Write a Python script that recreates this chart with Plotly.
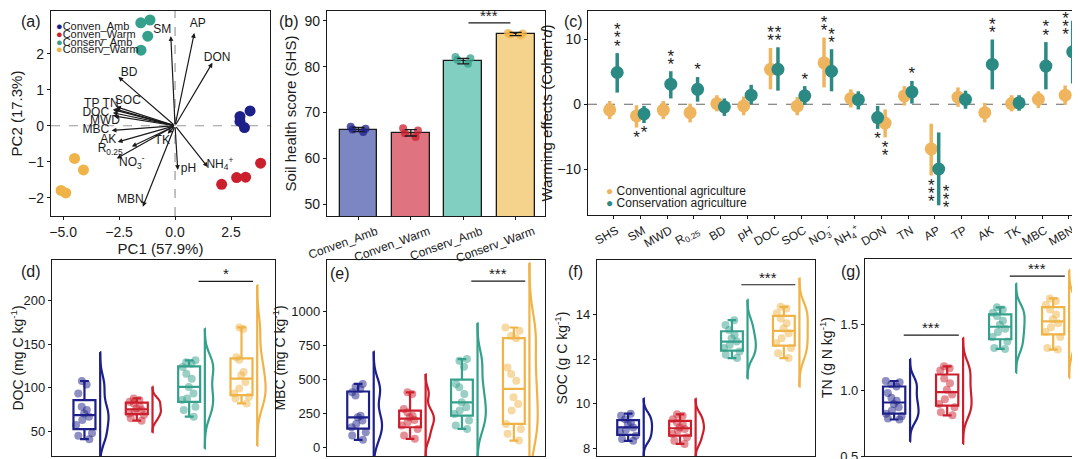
import numpy as np
import plotly.graph_objects as go

W, H = 1080, 459
FONT = "Liberation Sans, Arial, sans-serif"
INK = "#1a1a1a"

groups = ["Conven_Amb", "Conven_Warm", "Conserv_Amb", "Conserv_Warm"]
group_dark = ["#1d2088", "#cc1f2d", "#35a08c", "#f0b347"]
group_light = ["#7c86c2", "#df737f", "#80cfc1", "#f5d38c"]

# (a) PCA scores, one list per group
pc1_scores = [[3.35, 2.9, 2.9, 3.1],
              [3.82, 3.15, 2.75, 2.08],
              [-1.53, -1.12, -1.22, -1.52],
              [-4.49, -4.09, -5.09, -4.88]]
pc2_scores = [[0.41, 0.26, 0.12, -0.05],
              [-1.04, -1.43, -1.44, -1.63],
              [2.86, 2.94, 2.49, 2.10],
              [-0.91, -1.23, -1.80, -1.87]]

load_vars = ["SM", "AP", "DON", "BD", "SOC", "TN", "TP", "DOC", "MWD", "MBC", "AK",
             "R<sub>0.25</sub>", "NO<sub>3</sub><sup>-</sup>", "TK", "pH",
             "NH<sub>4</sub><sup>+</sup>", "MBN"]
load_pc1 = [-0.19, 0.86, 1.67, -2.53, -2.63, -2.71, -2.78, -2.78, -2.74, -2.83, -2.56,
            -1.93, -2.6, -0.33, 0.12, 1.46, -1.44]
load_pc2 = [2.49, 2.58, 1.75, 1.36, 0.53, 0.47, 0.45, 0.36, 0.27, -0.13, -0.45,
            -0.58, -0.91, -0.22, -1.23, -1.15, -2.25]
label_pc1 = [-0.57, 1.01, 1.88, -2.05, -2.11, -2.88, -3.72, -3.54, -3.13, -3.54, -2.98,
             -2.9, -1.93, -0.57, 0.6, 2.0, -2.0]
label_pc2 = [2.65, 2.83, 1.89, 1.47, 0.68, 0.61, 0.61, 0.35, 0.13, -0.11, -0.40,
             -0.66, -1.05, -0.43, -1.19, -1.08, -2.06]

# (b) soil health score
shs_mean = [66.3, 65.6, 81.2, 87.1]
shs_se = [0.45, 0.7, 0.6, 0.35]
shs_points = [[66.9, 66.3, 65.8, 66.5],
              [66.6, 64.7, 65.5, 66.1],
              [82.1, 81.5, 80.6, 81.8],
              [87.3, 86.8, 87.0, 87.2]]

# (c) warming effects (Cohen's d) with 95% CI
eff_vars = ["SHS", "SM", "MWD", "R<sub>0.25</sub>", "BD", "pH", "DOC", "SOC",
            "NO<sub>3</sub><sup>-</sup>", "NH<sub>4</sub><sup>+</sup>", "DON", "TN", "AP",
            "TP", "AK", "TK", "MBC", "MBN"]
conv_d = [-0.87, -1.8, -0.9, -1.3, 0.1, -0.25, 5.4, -0.3, 6.4, 0.9, -2.9, 1.3, -6.9,
          1.1, -1.3, 0.1, 0.77, 1.4]
conv_lo = [-2.3, -3.6, -2.3, -2.8, -1.1, -1.7, 2.3, -1.7, 2.6, -0.5, -5.1, -0.2, -11.0,
           -0.4, -2.8, -1.1, -0.6, -0.1]
conv_hi = [0.5, -0.15, 0.5, 0.1, 1.4, 1.2, 8.7, 1.1, 10.3, 2.3, -0.8, 2.8, -3.0,
           2.6, 0.2, 1.4, 2.0, 2.9]
cons_d = [4.9, -1.5, 3.1, 2.3, -0.4, 1.4, 5.4, 1.3, 5.1, 0.7, -2.05, 1.9, -10.0,
          0.75, 6.15, 0.2, 5.9, 8.1]
cons_lo = [1.8, -2.9, 0.9, 0.4, -1.8, 0.0, 2.1, -0.1, 2.0, -0.8, -3.8, 0.1, -15.6,
           -0.7, 2.3, -1.0, 2.3, 3.2]
cons_hi = [7.9, -0.25, 5.1, 4.2, 0.9, 3.0, 8.8, 2.8, 8.5, 2.0, -0.25, 3.6, -4.35,
           2.1, 10.0, 1.4, 9.6, 12.9]
conv_sig = ["", "*", "", "", "", "", "**", "", "**", "", "**", "", "***",
            "", "", "", "", ""]
cons_sig = ["***", "*", "**", "*", "", "", "**", "*", "**", "", "*", "*", "***",
            "", "**", "", "**", "***"]
# dodge side of the conventional series per variable (DON is drawn the other way round)
conv_side = [-1] * 10 + [1] + [-1] * 7

# (d)-(g) replicate values per group
doc_vals = [[107.9, 103.8, 93.5, 78.4, 74.6, 70.8, 67.0, 63.3, 57.6, 48.1, 45.1, 41.3],
            [87.9, 86.0, 84.1, 82.2, 79.2, 76.5, 74.6, 72.7, 70.8, 68.9, 65.1, 62.5],
            [131.6, 129.5, 127.6, 123.8, 116.2, 110.6, 101.1, 93.5, 87.9, 86.0, 78.4, 74.6, 67.0],
            [169.3, 167.4, 135.2, 132.3, 118.2, 114.4, 106.8, 99.3, 93.5, 89.8, 87.9, 82.2]]
mbc_vals = [[467, 447, 430, 406, 382, 235, 223, 199, 175, 150, 114, 90, 58],
            [406, 394, 284, 260, 235, 223, 204, 187, 163, 138, 90, 66],
            [649, 637, 593, 467, 443, 394, 333, 297, 272, 248, 199, 163, 138],
            [880, 856, 819, 802, 588, 540, 491, 370, 321, 272, 175, 138, 102, 53]]
soc_vals = [[9.55, 9.45, 9.30, 9.15, 9.08, 8.93, 8.82, 8.71, 8.56, 8.41, 8.33],
            [9.52, 9.45, 9.30, 9.15, 9.08, 8.93, 8.86, 8.79, 8.64, 8.49, 8.33, 8.19],
            [13.74, 13.52, 13.30, 13.08, 12.93, 12.78, 12.63, 12.49, 12.34, 12.19, 12.04],
            [14.34, 14.27, 14.05, 13.82, 13.60, 13.37, 13.15, 12.93, 12.71, 12.49, 12.26, 12.04]]
tn_vals = [[1.071, 1.061, 1.046, 1.029, 0.98, 0.944, 0.92, 0.895, 0.871, 0.846, 0.822, 0.802, 0.785, 0.778],
           [1.183, 1.168, 1.151, 1.09, 1.054, 1.005, 0.968, 0.932, 0.895, 0.871, 0.834, 0.81],
           [1.632, 1.615, 1.59, 1.566, 1.529, 1.5, 1.468, 1.444, 1.407, 1.371, 1.322, 1.315],
           [1.7, 1.68, 1.651, 1.615, 1.578, 1.541, 1.51, 1.48, 1.444, 1.407, 1.322, 1.31]]

# significance brackets: (from group, to group, height, label)
doc_sig = [(2, 3, 222, "*")]
mbc_sig = [(2, 3, 1220, "***")]
soc_sig = [(2, 3, 15.33, "***")]
tn_sig = [(0, 1, 1.42, "***"), (2, 3, 1.87, "***")]
shs_sig = [(2, 3, 89.5, "***")]

C_CONV = "#efb55e"
C_CONS = "#2c8a84"
C_RANGE = [-17.1, 14.4]


def dx(l, r):
    return [l / W, r / W]


def dy(t, b):
    return [1 - b / H, 1 - t / H]


def axis(domain, anchor, title=None, tsize=14, standoff=3, **kw):
    d = dict(domain=domain, anchor=anchor, showline=True, linewidth=1.3, linecolor=INK,
             mirror=True, ticks="outside", ticklen=3, tickwidth=1, tickcolor=INK,
             showgrid=False, zeroline=False, automargin=False,
             tickfont=dict(size=13, color=INK, family=FONT))
    if title:
        d["title"] = dict(text=title, font=dict(size=tsize, color=INK, family=FONT),
                          standoff=standoff)
    d.update(kw)
    return d


def nrd0(v):
    # Silverman's rule, as used by ggplot's violin
    v = np.asarray(v, dtype=float)
    q75, q25 = np.percentile(v, [75, 25])
    s = min(v.std(ddof=1), (q75 - q25) / 1.34)
    return 0.9 * s * len(v) ** -0.2


fig = go.Figure()
annotations = []
shapes = []

# ---------- (a) PCA biplot ----------
for i, g in enumerate(groups):
    fig.add_trace(go.Scatter(x=pc1_scores[i], y=pc2_scores[i], mode="markers",
                             marker=dict(size=11, color=group_dark[i]),
                             xaxis="x", yaxis="y", showlegend=False))
for vx, vy in zip(load_pc1, load_pc2):
    annotations.append(dict(x=vx, y=vy, ax=0, ay=0, xref="x", yref="y", axref="x", ayref="y",
                            text="", showarrow=True, arrowhead=2, arrowsize=0.8,
                            arrowwidth=1.2, arrowcolor=INK, standoff=0))
fig.add_trace(go.Scatter(x=label_pc1, y=label_pc2, text=load_vars, mode="text",
                         textfont=dict(size=12, color=INK, family=FONT),
                         xaxis="x", yaxis="y", showlegend=False))
shapes.append(dict(type="line", xref="x", yref="y domain", x0=0, x1=0, y0=0, y1=1,
                   line=dict(color="#999", width=1.2, dash="dash"), layer="below"))
shapes.append(dict(type="line", xref="x domain", yref="y", x0=0, x1=1, y0=0, y1=0,
                   line=dict(color="#999", width=1.2, dash="dash"), layer="below"))
for i, g in enumerate(groups):
    annotations.append(dict(xref="paper", yref="paper", x=46 / W, y=1 - (18 + 7.8 * i) / H,
                            xanchor="left", yanchor="middle", showarrow=False,
                            text=f'<span style="color:{group_dark[i]}">●</span>{g}',
                            font=dict(size=11, color=INK, family=FONT)))

# ---------- (b) SHS bars ----------
xb = list(range(len(groups)))
fig.add_trace(go.Bar(x=xb, y=shs_mean, width=0.72, marker=dict(color=group_light,
                     line=dict(color=INK, width=1.3)), xaxis="x2", yaxis="y2", showlegend=False))
for i in xb:
    fig.add_trace(go.Box(y=shs_points[i], x0=i, width=0.35, boxpoints="all", jitter=1,
                         pointpos=0, fillcolor="rgba(0,0,0,0)", line=dict(width=0),
                         marker=dict(size=8, color=group_dark[i], opacity=0.75),
                         xaxis="x2", yaxis="y2", showlegend=False, hoverinfo="skip"))
fig.add_trace(go.Scatter(x=xb, y=shs_mean, mode="markers", marker=dict(size=1, opacity=0),
                         error_y=dict(type="data", array=shs_se, color=INK, thickness=1.3, width=6),
                         xaxis="x2", yaxis="y2", showlegend=False))

# ---------- (c) Cohen's d ----------
xc = list(range(len(eff_vars)))
DODGE = 0.14
series_c = [(conv_d, conv_lo, conv_hi, conv_sig, C_CONV, [s * DODGE for s in conv_side]),
            (cons_d, cons_lo, cons_hi, cons_sig, C_CONS, [-s * DODGE for s in conv_side])]
for dvals, lo, hi, sig, col, offs in series_c:
    fig.add_trace(go.Scatter(
        x=[v + o for v, o in zip(xc, offs)], y=dvals, mode="markers",
        marker=dict(size=13, color=col),
        error_y=dict(type="data", symmetric=False,
                     array=[h - m for h, m in zip(hi, dvals)],
                     arrayminus=[m - l for m, l in zip(dvals, lo)],
                     color=col, thickness=3.5, width=0),
        xaxis="x3", yaxis="y3", showlegend=False))
STEP = 1.25
for dvals, lo, hi, sig, col, offs in series_c:
    sx, sy = [], []
    for i, s in enumerate(sig):
        n = len(s)
        if n == 0:
            continue
        xpos = i + offs[i]
        if dvals[i] > 0:
            ys = [hi[i] + 0.9 + STEP * k for k in range(n)]
            if ys[-1] > C_RANGE[1] - 1.3:  # no room above: stack beside the bar
                xpos -= 0.27
                ys = [C_RANGE[1] - 1.3 - STEP * k for k in range(n)]
        else:
            ys = [lo[i] - 1.7 - STEP * k for k in range(n)]
            if ys[-1] < C_RANGE[0] + 0.9:
                xpos += 0.27
                ys = [C_RANGE[0] + 0.9 + STEP * k for k in range(n)]
        sx += [xpos] * n
        sy += ys
    fig.add_trace(go.Scatter(x=sx, y=sy, mode="text", text=["*"] * len(sx),
                             textfont=dict(size=17, color=INK, family=FONT),
                             xaxis="x3", yaxis="y3", showlegend=False))
shapes.append(dict(type="line", xref="x3 domain", yref="y3", x0=0, x1=1, y0=0, y1=0,
                   line=dict(color="#666", width=1.2, dash="dash"), layer="below"))
for j, (name, col) in enumerate([("Conventional agriculture", C_CONV),
                                 ("Conservation agriculture", C_CONS)]):
    annotations.append(dict(xref="paper", yref="paper", x=596 / W, y=1 - (183 + 12 * j) / H,
                            xanchor="left", yanchor="middle", showarrow=False,
                            text=f'<span style="color:{col}">●</span> {name}',
                            font=dict(size=12, color=INK, family=FONT)))

# ---------- (d)-(g) box + half violin ----------
VOFF = 0.3
bottom = [("4", doc_vals, doc_sig), ("5", mbc_vals, mbc_sig),
          ("6", soc_vals, soc_sig), ("7", tn_vals, tn_sig)]
for n, vals, sigs in bottom:
    for i in range(len(groups)):
        bw = nrd0(vals[i])
        span = [min(vals[i]) - 3 * bw, max(vals[i]) + 3 * bw]
        fig.add_trace(go.Violin(y=vals[i], x0=i + VOFF, side="positive", width=0.32,
                                bandwidth=bw, spanmode="manual", span=span,
                                scalegroup="g" + n, scalemode="width",
                                points=False, fillcolor="rgba(255,255,255,0)",
                                line=dict(color=group_dark[i], width=2.2),
                                xaxis="x" + n, yaxis="y" + n, showlegend=False))
        fig.add_trace(go.Scatter(x=[i + VOFF, i + VOFF], y=span, mode="lines",
                                 line=dict(color=group_dark[i], width=2.2),
                                 xaxis="x" + n, yaxis="y" + n, showlegend=False))
        fig.add_trace(go.Box(y=vals[i], x0=i, width=0.42, boxpoints="all", jitter=0.9,
                             pointpos=0, whiskerwidth=0.4,
                             fillcolor="rgba(255,255,255,0.35)",
                             line=dict(color=group_dark[i], width=2.2),
                             marker=dict(size=8, color=group_dark[i], opacity=0.5),
                             xaxis="x" + n, yaxis="y" + n, showlegend=False))
    for a, b, yv, lab in sigs:
        shapes.append(dict(type="line", xref="x" + n, yref="y" + n, x0=a + 0.18, x1=b + 0.22,
                           y0=yv, y1=yv, line=dict(color=INK, width=1.2)))
        annotations.append(dict(xref="x" + n, yref="y" + n, x=(a + b) / 2 + 0.2, y=yv,
                                text=lab, showarrow=False, yanchor="bottom", yshift=-3,
                                font=dict(size=15, color=INK, family=FONT)))
for a, b, yv, lab in shs_sig:
    shapes.append(dict(type="line", xref="x2", yref="y2", x0=a + 0.1, x1=b - 0.1,
                       y0=yv, y1=yv, line=dict(color=INK, width=1.2)))
    annotations.append(dict(xref="x2", yref="y2", x=(a + b) / 2, y=yv, text=lab,
                            showarrow=False, yanchor="bottom", yshift=-3,
                            font=dict(size=15, color=INK, family=FONT)))

# panel letters
for lab, px, py in [("(a)", 23, 14), ("(b)", 281, 13), ("(c)", 565, 13),
                    ("(d)", 23, 263), ("(e)", 332, 265), ("(f)", 567, 263), ("(g)", 843, 263)]:
    annotations.append(dict(xref="paper", yref="paper", x=px / W, y=1 - py / H,
                            text=lab, showarrow=False, xanchor="center", yanchor="middle",
                            font=dict(size=16, color=INK, family=FONT)))

kg = "kg<sup>-1</sup>"
fig.update_layout(
    width=W, height=H, margin=dict(l=0, r=0, t=0, b=0, autoexpand=False),
    paper_bgcolor="white", plot_bgcolor="white", showlegend=False,
    boxmode="overlay", violinmode="overlay", bargap=0,
    font=dict(family=FONT, color=INK),
    xaxis=axis(dx(43, 262), "y", "PC1 (57.9%)", 15, 2, range=[-5.54, 4.24],
               tickvals=[-5, -2.5, 0, 2.5], tickformat=".1f", tickfont=dict(size=14, color=INK)),
    yaxis=axis(dy(3, 208), "x", "PC2 (17.3%)", 15, 4, range=[-2.51, 3.19],
               tickvals=[-2, -1, 0, 1, 2], tickfont=dict(size=14, color=INK)),
    xaxis2=axis(dx(319, 537), "y2", range=[-0.6, 3.56], tickvals=xb, ticktext=groups,
                tickangle=-20, tickfont=dict(size=12, color=INK), ticklabelshift=18),
    yaxis2=axis(dy(3, 208), "x2", "Soil health score (SHS)", 15, 4, range=[47.5, 92.1],
                dtick=10, tickfont=dict(size=14, color=INK)),
    xaxis3=axis(dx(580, 1077), "y3", range=[-0.95, 17.6], tickvals=xc, ticktext=eff_vars,
                tickangle=-30, tickfont=dict(size=12, color=INK), ticklabelshift=3),
    yaxis3=axis(dy(3, 207), "x3", "Warming effects (Cohen'<i>d</i>)", 15, 1, range=C_RANGE,
                tickvals=[-10, 0, 10], tickfont=dict(size=14, color=INK)),
    xaxis4=axis(dx(44, 267), "y4", range=[-0.62, 3.64], showticklabels=False, ticks=""),
    yaxis4=axis(dy(252, 448), "x4", f"DOC (mg C {kg})", 14, 4, range=[22, 246.5],
                tickvals=[50, 100, 150, 200]),
    xaxis5=axis(dx(319, 537), "y5", range=[-0.6, 3.6], showticklabels=False, ticks=""),
    yaxis5=axis(dy(252, 448), "x5", f"MBC (mg C {kg})", 14, 2, range=[-60, 1374],
                tickvals=[0, 250, 500, 750, 1000]),
    xaxis6=axis(dx(589, 807), "y6", range=[-0.6, 3.6], showticklabels=False, ticks=""),
    yaxis6=axis(dy(252, 448), "x6", f"SOC (g C {kg})", 14, 4, range=[7.65, 16.44],
                tickvals=[8, 10, 12, 14]),
    xaxis7=axis(dx(857, 1077), "y7", range=[-0.55, 3.6], showticklabels=False, ticks=""),
    yaxis7=axis(dy(251, 448), "x7", f"TN (g N {kg})", 14, 4, range=[0.5, 2.0],
                tickvals=[0.5, 1.0, 1.5], tickformat=".1f"),
    annotations=annotations, shapes=shapes,
)

fig.write_html("out.html")
